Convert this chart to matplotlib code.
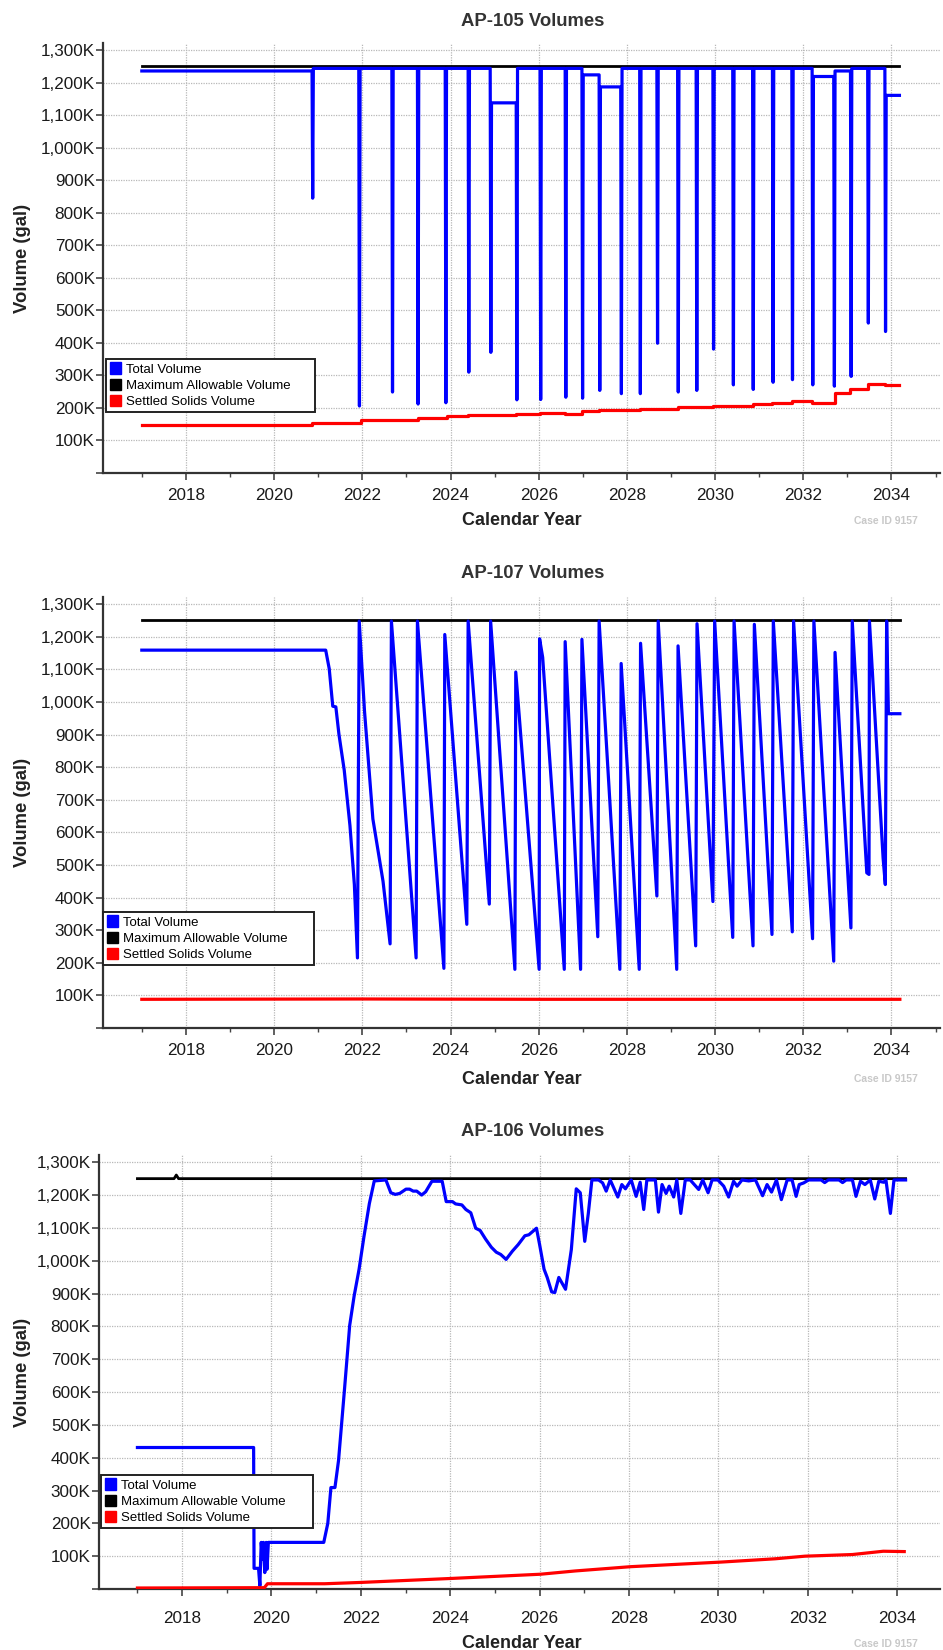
import matplotlib
matplotlib.use("Agg")
import matplotlib.pyplot as plt
from matplotlib.patches import Patch
from matplotlib.ticker import FixedLocator

plt.rcParams['font.family'] = ['Liberation Sans', 'DejaVu Sans']

BLUE = '#0000ff'
RED = '#ff0000'
BLACK = '#000000'

# ---- AP-105 (volumes in K gal) ----
ap105_start = 1236
ap105_drop_year = [2020.86, 2021.92, 2022.67, 2023.25, 2023.88, 2024.40, 2024.90, 2025.49,
                   2026.03, 2026.60, 2026.98, 2027.37, 2027.86, 2028.29, 2028.68, 2029.15,
                   2029.57, 2029.95, 2030.40, 2030.85, 2031.30, 2031.74, 2032.20, 2032.69,
                   2033.07, 2033.46, 2033.85]
ap105_drop_low = [845, 206, 249, 212, 216, 310, 371, 225,
                  226, 233, 230, 254, 244, 244, 399, 249,
                  254, 381, 271, 257, 279, 287, 271, 267,
                  297, 461, 435]
ap105_refill = [1244, 1244, 1244, 1244, 1244, 1244, 1138, 1244,
                1244, 1244, 1224, 1187, 1244, 1244, 1244, 1244,
                1244, 1244, 1244, 1244, 1244, 1244, 1219, 1236,
                1244, 1244, 1161]
ap105_end_year = 2034.18

ap105_solids_year = [2017.0, 2020.87, 2021.97, 2022.67, 2023.27, 2023.92, 2024.40, 2025.49,
                     2026.02, 2026.60, 2026.99, 2027.37, 2027.86, 2028.29, 2029.15, 2029.57,
                     2029.95, 2030.40, 2030.85, 2031.30, 2031.74, 2032.20, 2032.72, 2033.07,
                     2033.46, 2033.85, 2034.18]
ap105_solids = [147, 155, 162, 164, 170, 176, 178, 180,
                186, 181, 191, 195, 193, 198, 202, 204,
                205, 206, 212, 216, 220, 216, 247, 259,
                273, 272, 271]

ap105_max_year = [2017.0, 2034.18]
ap105_max = [1252, 1252]

# ---- AP-107 ----
ap107_year = [2017.0, 2021.17, 2021.25, 2021.33, 2021.40, 2021.47, 2021.59, 2021.72, 2021.82,
              2021.89, 2021.93, 2022.05, 2022.24, 2022.47, 2022.63, 2022.66, 2023.22, 2023.25,
              2023.85, 2023.87, 2024.37, 2024.40, 2024.88, 2024.91, 2025.46, 2025.48, 2026.01,
              2026.02, 2026.09, 2026.58, 2026.60, 2026.95, 2026.98, 2027.34, 2027.37, 2027.84,
              2027.87, 2028.28, 2028.31, 2028.68, 2028.71, 2029.13, 2029.16, 2029.56, 2029.59,
              2029.95, 2029.99, 2030.40, 2030.43, 2030.86, 2030.89, 2031.29, 2031.32, 2031.75,
              2031.78, 2032.21, 2032.24, 2032.69, 2032.72, 2033.08, 2033.11, 2033.44, 2033.49,
              2033.50, 2033.81, 2033.86, 2033.89, 2033.93, 2034.19]
ap107_total = [1159, 1159, 1102, 987, 985, 901, 791, 621, 440,
               215, 1248, 972, 641, 450, 258, 1248, 215, 1248,
               183, 1207, 318, 1248, 380, 1248, 180, 1092, 180,
               1194, 1137, 180, 1185, 180, 1192, 280, 1248, 180,
               1118, 180, 1180, 405, 1248, 180, 1172, 252, 1240,
               388, 1248, 278, 1248, 252, 1238, 287, 1248, 295,
               1248, 274, 1248, 205, 1152, 307, 1248, 476, 471,
               1248, 521, 440, 1248, 964, 964]

ap107_solids_year = [2017.0, 2021.93, 2026.0, 2034.19]
ap107_solids = [88, 89, 88, 88]

ap107_max_year = [2017.0, 2034.19]
ap107_max = [1250, 1250]

# ---- AP-106 ----
ap106_year = [2017.0, 2019.60, 2019.61, 2019.71, 2019.74, 2019.77, 2019.80, 2019.82, 2019.85,
              2019.88, 2019.90, 2019.93, 2021.17, 2021.26, 2021.33, 2021.42, 2021.50, 2021.63,
              2021.75, 2021.85, 2021.96, 2022.07, 2022.19, 2022.30, 2022.56, 2022.67, 2022.77,
              2022.87, 2023.01, 2023.09, 2023.17, 2023.25, 2023.36, 2023.45, 2023.59, 2023.82,
              2023.91, 2024.05, 2024.12, 2024.26, 2024.35, 2024.46, 2024.57, 2024.67, 2024.79,
              2024.92, 2025.03, 2025.13, 2025.25, 2025.39, 2025.52, 2025.67, 2025.76, 2025.93,
              2026.00, 2026.10, 2026.17, 2026.27, 2026.34, 2026.43, 2026.58, 2026.71, 2026.82,
              2026.91, 2027.01, 2027.09, 2027.17, 2027.32, 2027.41, 2027.49, 2027.58, 2027.75,
              2027.84, 2027.92, 2028.05, 2028.16, 2028.25, 2028.33, 2028.40, 2028.59, 2028.66,
              2028.74, 2028.83, 2028.90, 2029.00, 2029.07, 2029.16, 2029.26, 2029.37, 2029.56,
              2029.65, 2029.77, 2029.86, 2029.99, 2030.12, 2030.23, 2030.34, 2030.42, 2030.53,
              2030.68, 2030.83, 2030.99, 2031.09, 2031.19, 2031.30, 2031.41, 2031.54, 2031.65,
              2031.74, 2031.81, 2031.91, 2032.02, 2032.30, 2032.38, 2032.46, 2032.70, 2032.78,
              2032.86, 2033.00, 2033.08, 2033.18, 2033.28, 2033.40, 2033.50, 2033.59, 2033.70,
              2033.75, 2033.85, 2033.93, 2034.19]
ap106_total = [431, 431, 63, 63, 10, 142, 90, 142, 50,
               142, 60, 142, 142, 200, 309, 309, 391, 602,
               803, 893, 974, 1074, 1174, 1243, 1246, 1207, 1202,
               1205, 1218, 1218, 1212, 1212, 1200, 1210, 1242, 1242,
               1180, 1180, 1173, 1170, 1156, 1146, 1099, 1092, 1066,
               1041, 1026, 1019, 1004, 1029, 1049, 1076, 1079, 1099,
               1049, 974, 949, 905, 903, 949, 913, 1034, 1219,
               1207, 1059, 1144, 1246, 1246, 1237, 1212, 1246, 1194,
               1232, 1219, 1246, 1196, 1239, 1156, 1246, 1246, 1148,
               1232, 1205, 1227, 1194, 1246, 1144, 1246, 1246, 1217,
               1246, 1207, 1246, 1246, 1227, 1194, 1242, 1227, 1246,
               1243, 1246, 1198, 1232, 1209, 1246, 1186, 1246, 1246,
               1196, 1232, 1237, 1246, 1246, 1238, 1246, 1246, 1238,
               1246, 1246, 1196, 1242, 1232, 1246, 1188, 1242, 1239,
               1246, 1144, 1246, 1246]

ap106_solids_year = [2017.0, 2019.84, 2019.91, 2021.19, 2022.0, 2024.0, 2026.02, 2026.8,
                     2028.04, 2030.06, 2031.27, 2031.94, 2033.0, 2033.69, 2034.16]
ap106_solids = [3, 4, 16, 16, 20, 32, 45, 55,
                68, 82, 92, 100, 105, 115, 114]

ap106_max_year = [2017.0, 2017.82, 2017.87, 2017.92, 2034.19]
ap106_max = [1250, 1250, 1261, 1250, 1250]

year_ticks = [2018, 2020, 2022, 2024, 2026, 2028, 2030, 2032, 2034]
odd_years = [2017, 2019, 2021, 2023, 2025, 2027, 2029, 2031, 2033, 2035]
vol_ticks = [0, 100, 200, 300, 400, 500, 600, 700, 800, 900, 1000, 1100, 1200, 1300]


def build_steps(start, drop_year, drop_low, refill, end_year):
    """Tank drained and refilled at each transfer date."""
    xs = [2017.0]
    ys = [start]
    level = start
    for t, low, new in zip(drop_year, drop_low, refill):
        xs += [t, t + 0.015, t + 0.03]
        ys += [level, low, new]
        level = new
    xs.append(end_year)
    ys.append(level)
    return xs, ys


W, H = 943, 1650
fig = plt.figure(figsize=(W / 100, H / 100), dpi=100)


def panel(title, box, xlim, total, maxv, solids, leg_xy, title_y, xlabel_y, xpad):
    l, t, r, b = box
    ax = fig.add_axes([l / W, 1 - b / H, (r - l) / W, (b - t) / H])
    ax.plot(maxv[0], maxv[1], color=BLACK, lw=2.0, zorder=3)
    ax.plot(total[0], total[1], color=BLUE, lw=2.3, zorder=4)
    ax.plot(solids[0], solids[1], color=RED, lw=2.3, zorder=5,
            drawstyle=solids[2])

    ax.set_xlim(*xlim)
    ax.set_ylim(0, 1322)
    ax.xaxis.set_major_locator(FixedLocator(year_ticks))
    ax.xaxis.set_minor_locator(FixedLocator(odd_years))
    ax.set_xticklabels([str(y) for y in year_ticks])
    ax.set_yticks(vol_ticks)
    ax.set_yticklabels([''] + [f"{v:,}K" for v in vol_ticks[1:]])
    ax.tick_params(axis='both', which='major', labelsize=12.3, length=5,
                   width=1.2, color='#444444', labelcolor='#1a1a1a')
    ax.tick_params(axis='x', which='major', pad=xpad)
    ax.tick_params(axis='y', which='major', pad=1)
    ax.tick_params(axis='x', which='minor', length=3, width=1.0, color='#444444')

    ax.grid(True, which='major', color='#b8b8b8', linestyle=(0, (1, 1)), lw=0.9)
    ax.set_axisbelow(True)
    for s in ('top', 'right'):
        ax.spines[s].set_visible(False)
    for s in ('left', 'bottom'):
        ax.spines[s].set_color('#333333')
        ax.spines[s].set_linewidth(1.6)

    # legend box: lower-left corner and size in pixels
    lx, ly, lw_px, lh_px = leg_xy
    handles = [Patch(facecolor=BLUE, edgecolor=BLUE),
               Patch(facecolor=BLACK, edgecolor=BLACK),
               Patch(facecolor=RED, edgecolor=RED)]
    labels = ['Total Volume', 'Maximum Allowable Volume', 'Settled Solids Volume']
    leg = ax.legend(handles, labels, loc='lower left', mode='expand',
                    bbox_to_anchor=((lx - l) / (r - l), (b - ly) / (b - t),
                                    lw_px / (r - l), lh_px / (b - t)),
                    borderaxespad=0, fancybox=False, framealpha=1,
                    prop={'size': 9.5},
                    handlelength=0.85, handleheight=1.0, handletextpad=0.35,
                    labelspacing=0.2, borderpad=0.3)
    leg.get_frame().set_edgecolor('#222222')
    leg.get_frame().set_linewidth(1.4)

    fig.text(533 / W, 1 - title_y / H, title, ha='center', va='center',
             fontsize=13.3, fontweight='bold', color='#333333')
    fig.text(522 / W, 1 - xlabel_y / H, 'Calendar Year', ha='center', va='center',
             fontsize=13, fontweight='bold', color='#222222')
    fig.text(886 / W, 1 - xlabel_y / H, 'Case ID 9157', ha='center', va='center',
             fontsize=7.5, fontweight='bold', color='#c8c8c8')
    fig.text(23 / W, 1 - (t + b) / 2 / H, 'Volume (gal)', ha='center', va='center',
             rotation=90, fontsize=13.3, fontweight='bold', color='#222222')
    return ax


ap105_x, ap105_y = build_steps(ap105_start, ap105_drop_year, ap105_drop_low,
                               ap105_refill, ap105_end_year)

panel('AP-105 Volumes', (103, 43, 940, 473), (2016.12, 2035.1),
      (ap105_x, ap105_y), (ap105_max_year, ap105_max),
      (ap105_solids_year, ap105_solids, 'steps-post'),
      (106, 412, 209, 54), 21, 521, 5.5)

panel('AP-107 Volumes', (103, 597, 940, 1028), (2016.12, 2035.1),
      (ap107_year, ap107_total), (ap107_max_year, ap107_max),
      (ap107_solids_year, ap107_solids, 'default'),
      (103, 965, 211, 53), 573, 1079, 6)

panel('AP-106 Volumes', (99, 1155, 940, 1589), (2016.14, 2034.96),
      (ap106_year, ap106_total), (ap106_max_year, ap106_max),
      (ap106_solids_year, ap106_solids, 'default'),
      (101, 1528, 212, 55), 1131, 1644, 11)

fig.savefig('out.png', dpi=100)
